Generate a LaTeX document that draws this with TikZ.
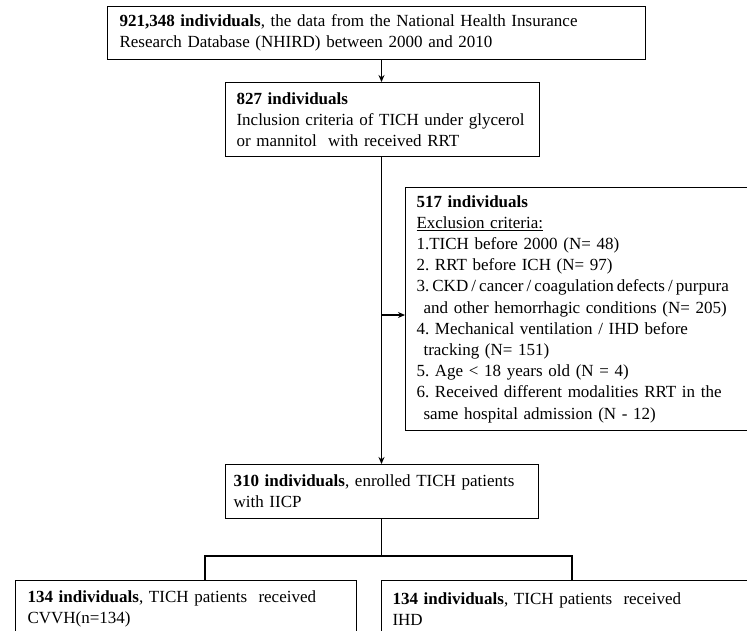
\documentclass[tikz,border=0pt]{standalone}
\usepackage{fontspec}
\setmainfont{Liberation Serif}
\usetikzlibrary{arrows.meta}
\begin{document}
\begin{tikzpicture}[x=1pt,y=-1pt,
  box/.style={draw=black,line width=1.1pt,rectangle,anchor=north west,inner xsep=11pt,inner ysep=0pt,
    align=left,font=\frenchspacing\fontsize{17}{21.2}\selectfont},
  arr/.style={line width=1.1pt,-{Stealth[length=7pt,width=6pt]}},
  link/.style={line width=1.1pt}]
\clip (0,0) rectangle (747,630);
\fill[white] (0,0) rectangle (747,630);
\node[box,inner xsep=12pt,text width=514pt,minimum height=53pt] (b1) at (107,6)
  {\textbf{921,348 individuals}, the data from the National Health Insurance\\Research Database (NHIRD) between 2000 and 2010};
\node[box,inner xsep=11pt,text width=292pt,minimum height=74pt] (b2) at (225,82)
  {\textbf{827 individuals}\\Inclusion criteria of TICH under glycerol\\or mannitol\ \ with received RRT};
\node[box,inner xsep=11pt,text width=358pt,minimum height=243pt] (b3) at (405,187)
  {\textbf{517 individuals}\\\underline{Exclusion criteria:}\\1.TICH before 2000 (N= 48)\\2. RRT before ICH (N= 97)\\{\spaceskip=3.1pt\relax 3. CKD / cancer / coagulation defects / purpura}\\\hspace*{7pt}and other hemorrhagic conditions (N= 205)\\4. Mechanical ventilation / IHD before\\\hspace*{7pt}tracking (N= 151)\\5. Age < 18 years old (N = 4)\\6. Received different modalities RRT in the\\\hspace*{7pt}same hospital admission (N - 12)};
\node[box,inner xsep=8pt,text width=297pt,minimum height=54pt] (b4) at (225,464)
  {\textbf{310 individuals}, enrolled TICH patients\\with IICP};
\node[box,inner xsep=12pt,text width=317pt,minimum height=57pt] (b5) at (15,580)
  {\textbf{134 individuals}, TICH patients\ \ received\\CVVH(n=134)};
\node[box,inner xsep=11pt,text width=378pt,minimum height=57pt] (b6) at (381,580)
  {\textbf{134 individuals}, TICH patients\ \ received\\IHD};
\coordinate (c) at (381.5,0);
\coordinate (j) at (381.5,315);
\coordinate (lt) at (205,556);
\coordinate (rt) at (572,556);
\draw[arr] (b1.south -| c) -- (b2.north -| c);
\draw[arr] (b2.south -| c) -- (b4.north -| c);
\draw[arr] (j) -- (j -| b3.west);
\draw[link] (b4.south -| c) -- (lt -| c);
\draw[link] (lt |- b5.north) -- (lt) -- (rt) -- (rt |- b6.north);
\end{tikzpicture}
\end{document}
